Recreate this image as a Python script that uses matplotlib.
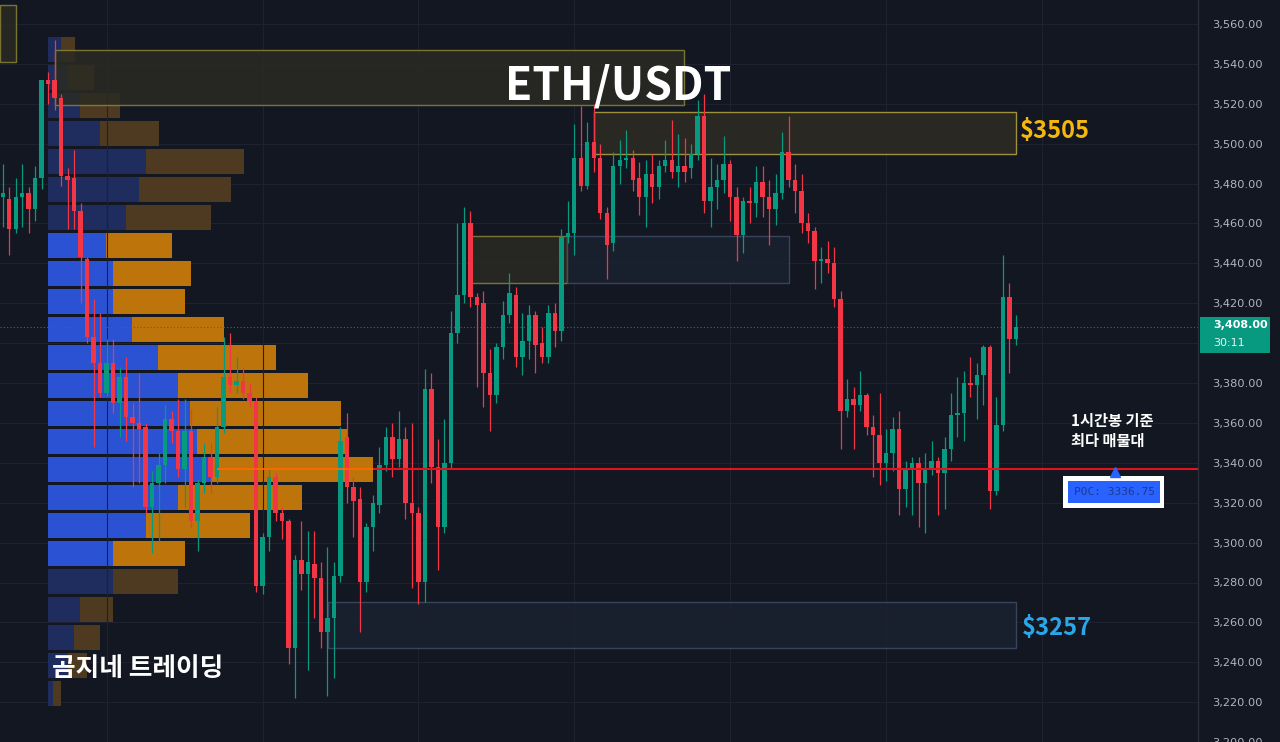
import matplotlib.pyplot as plt
from matplotlib.patches import Rectangle
import numpy as np

# ETH/USDT 1h candles (oldest -> newest)
opens = [3473, 3472, 3457, 3473, 3475, 3467, 3483, 3532, 3532, 3523,
         3484, 3483, 3466, 3442, 3403, 3390, 3375, 3390, 3370, 3383,
         3363, 3360, 3358, 3318, 3330, 3339, 3362, 3356, 3337, 3356,
         3311, 3330, 3343, 3333, 3358, 3383, 3379, 3381, 3375, 3371,
         3278, 3303, 3333, 3315, 3311, 3247, 3291, 3284, 3289, 3282,
         3255, 3262, 3283, 3353, 3328, 3322, 3280, 3308, 3319, 3339,
         3353, 3342, 3352, 3320, 3315, 3280, 3377, 3338, 3308, 3340,
         3405, 3424, 3460, 3423, 3420, 3385, 3374, 3398, 3414, 3424,
         3393, 3401, 3414, 3400, 3393, 3415, 3406, 3453, 3455, 3493,
         3479, 3501, 3493, 3465, 3450, 3489, 3492, 3493, 3483, 3473,
         3485, 3478, 3489, 3492, 3486, 3489, 3488, 3495, 3514, 3471,
         3478, 3482, 3490, 3473, 3454, 3471, 3470, 3481, 3473, 3467,
         3475, 3496, 3482, 3476, 3460, 3456, 3441, 3442, 3440, 3422,
         3366, 3372, 3369, 3374, 3358, 3354, 3340, 3345, 3357, 3327,
         3337, 3340, 3330, 3337, 3341, 3335, 3347, 3364, 3365, 3380,
         3379, 3384, 3398, 3326, 3359, 3423, 3402]
highs = [3490, 3478, 3483, 3490, 3478, 3489, 3532, 3536, 3552, 3525,
         3488, 3497, 3470, 3443, 3422, 3415, 3402, 3402, 3388, 3393,
         3370, 3385, 3360, 3336, 3345, 3369, 3366, 3372, 3372, 3367,
         3332, 3350, 3350, 3368, 3403, 3405, 3393, 3388, 3380, 3373,
         3305, 3337, 3335, 3318, 3312, 3294, 3311, 3306, 3306, 3290,
         3298, 3290, 3358, 3365, 3333, 3328, 3310, 3324, 3348, 3358,
         3360, 3366, 3358, 3360, 3318, 3387, 3385, 3352, 3362, 3416,
         3460, 3468, 3466, 3425, 3426, 3397, 3400, 3421, 3435, 3428,
         3415, 3419, 3416, 3408, 3419, 3420, 3457, 3471, 3510, 3519,
         3511, 3520, 3500, 3468, 3496, 3502, 3507, 3497, 3491, 3492,
         3495, 3492, 3502, 3512, 3505, 3503, 3500, 3522, 3525, 3493,
         3490, 3504, 3492, 3478, 3473, 3478, 3489, 3489, 3482, 3485,
         3506, 3514, 3490, 3485, 3465, 3458, 3448, 3451, 3448, 3426,
         3382, 3378, 3386, 3375, 3364, 3375, 3357, 3363, 3366, 3341,
         3343, 3343, 3345, 3351, 3343, 3353, 3375, 3383, 3386, 3393,
         3390, 3399, 3399, 3373, 3444, 3430, 3414]
lows = [3458, 3444, 3455, 3458, 3455, 3461, 3477, 3520, 3517, 3479,
        3457, 3457, 3420, 3400, 3348, 3373, 3373, 3365, 3353, 3351,
        3328, 3330, 3315, 3295, 3301, 3330, 3350, 3333, 3318, 3308,
        3296, 3325, 3325, 3330, 3355, 3375, 3375, 3372, 3368, 3275,
        3274, 3296, 3311, 3302, 3239, 3222, 3276, 3236, 3262, 3247,
        3223, 3232, 3280, 3320, 3303, 3255, 3275, 3296, 3315, 3336,
        3333, 3338, 3312, 3277, 3269, 3270, 3330, 3286, 3305, 3337,
        3400, 3420, 3418, 3378, 3368, 3356, 3370, 3392, 3410, 3388,
        3384, 3392, 3385, 3390, 3390, 3398, 3401, 3450, 3444, 3476,
        3477, 3486, 3462, 3432, 3446, 3480, 3488, 3476, 3464, 3458,
        3470, 3472, 3486, 3483, 3478, 3481, 3483, 3492, 3465, 3458,
        3467, 3475, 3461, 3441, 3445, 3460, 3463, 3463, 3449, 3459,
        3472, 3478, 3465, 3455, 3450, 3427, 3430, 3435, 3418, 3347,
        3363, 3347, 3366, 3354, 3333, 3329, 3331, 3336, 3314, 3318,
        3314, 3308, 3305, 3334, 3314, 3317, 3341, 3353, 3351, 3373,
        3362, 3369, 3317, 3324, 3356, 3385, 3399]
closes = [3475, 3457, 3473, 3475, 3467, 3483, 3532, 3530, 3523, 3484,
          3482, 3466, 3443, 3403, 3390, 3375, 3390, 3370, 3383, 3363,
          3360, 3357, 3318, 3330, 3339, 3362, 3356, 3337, 3356, 3311,
          3330, 3343, 3333, 3358, 3383, 3379, 3381, 3375, 3371, 3278,
          3303, 3333, 3315, 3311, 3247, 3291, 3284, 3290, 3282, 3255,
          3262, 3283, 3351, 3328, 3321, 3280, 3308, 3320, 3339, 3353,
          3342, 3352, 3320, 3315, 3280, 3377, 3338, 3308, 3340, 3405,
          3424, 3460, 3423, 3419, 3385, 3374, 3398, 3414, 3425, 3393,
          3401, 3414, 3399, 3393, 3415, 3406, 3453, 3455, 3493, 3479,
          3501, 3493, 3465, 3449, 3489, 3492, 3493, 3482, 3473, 3485,
          3478, 3489, 3492, 3486, 3489, 3486, 3495, 3514, 3471, 3478,
          3482, 3490, 3473, 3454, 3471, 3470, 3481, 3473, 3467, 3475,
          3496, 3482, 3476, 3460, 3456, 3441, 3442, 3440, 3422, 3366,
          3372, 3369, 3374, 3358, 3354, 3340, 3345, 3357, 3327, 3337,
          3340, 3330, 3337, 3341, 3335, 3347, 3364, 3365, 3380, 3379,
          3384, 3398, 3326, 3359, 3423, 3402, 3408]

# volume profile (top row -> bottom row)
vp_prices = [3547.2, 3533.2, 3519.1, 3505.1, 3491.1, 3477.1, 3463.0, 3449.0,
             3435.0, 3420.9, 3406.9, 3392.8, 3378.8, 3364.8, 3350.8, 3336.75,
             3322.7, 3308.7, 3294.6, 3280.6, 3266.6, 3252.6, 3238.5, 3224.5]
vp_buy = [1.3, 2.0, 3.2, 5.2, 9.8, 9.1, 7.8, 5.8, 6.5, 6.5, 8.4, 11.0,
          13.0, 14.2, 14.9, 16.4, 13.0, 9.8, 6.5, 6.5, 3.2, 2.6, 2.0, 0.5]
vp_sell = [1.4, 2.6, 4.0, 5.9, 9.8, 9.2, 8.5, 6.6, 7.8, 7.2, 9.2, 11.8,
           13.0, 15.1, 15.0, 16.1, 12.4, 10.4, 7.2, 6.5, 3.3, 2.6, 1.9, 0.8]
value_area_rows = range(7, 19)
poc = 3336.75
last_price = 3408.00
countdown = "30:11"

# zones: (start candle, end candle, top, bottom, kind)
zones = [(-0.42, 2.0, 3569.5, 3541.0, "olive"),
         (8.0, 104.9, 3547.0, 3519.4, "olive"),
         (91.0, 156.0, 3515.9, 3494.8, "gold"),
         (72.1, 86.9, 3453.7, 3430.2, "olive"),
         (86.9, 121.1, 3453.7, 3430.2, "slate"),
         (50.1, 156.0, 3270.3, 3247.3, "slate")]
zone_styles = {"olive": ("#2a2b22", "#8c8438"),
               "gold": ("#2d2c22", "#b5a542"),
               "slate": ("#1b2230", "#3f4c66")}

bg = "#131722"
up_col = "#089981"
down_col = "#f23645"
grid_col = "#1d2130"
kr = ["Noto Sans CJK KR", "DejaVu Sans"]

fig = plt.figure(figsize=(12.8, 7.42), dpi=100, facecolor=bg)
rect = [0, 0, 1198 / 1280, 1]

# bottom layer: volume profile
ax2 = fig.add_axes(rect)
ax2.set_facecolor(bg)
ax2.set_xlim(-4.8, 115)
ax2.set_ylim(3200.1, 3572.0)
for p in np.arange(3200, 3561, 20):
    ax2.axhline(p, color=grid_col, lw=0.8, zorder=0)
for k in range(len(vp_prices)):
    bright = k in value_area_rows
    bcol = "#2b52d2" if bright else "#1e2c5e"
    scol = "#bd740a" if bright else "#4d3a20"
    ax2.barh(vp_prices[k], vp_buy[k], height=12.5, color=bcol, zorder=2)
    ax2.barh(vp_prices[k], vp_sell[k], left=vp_buy[k], height=12.5, color=scol, zorder=2)
ax2.axis("off")

# top layer: candles, zones, labels
ax = fig.add_axes(rect)
ax.patch.set_visible(False)
ax.set_xlim(-0.42, 184.03)
ax.set_ylim(3200.1, 3572.0)

for i in range(16, 184, 24):
    ax.axvline(i, color=grid_col, lw=0.8, zorder=0)

for x0, x1, top, bot, kind in zones:
    fc, ec = zone_styles[kind]
    ax.add_patch(Rectangle((x0, bot), x1 - x0, top - bot, facecolor=fc, edgecolor=ec,
                           lw=1.0, alpha=0.85, zorder=1))

idx = np.arange(len(opens))
o = np.array(opens, dtype=float)
c = np.array(closes, dtype=float)
colors = np.where(c >= o, up_col, down_col)
ax.vlines(idx, lows, highs, colors=colors, lw=0.9, zorder=3)
body_low = np.minimum(o, c)
body_h = np.maximum(np.abs(c - o), 0.8)
ax.bar(idx, body_h, bottom=body_low, width=0.68, color=colors, zorder=4)

# POC line
ax.hlines(poc, 33, 57, color="#ff6a00", lw=1.3, zorder=5)
ax.hlines(poc, 57, 184.03, color="#e0141e", lw=1.5, zorder=5)

# last price dotted line
ax.axhline(last_price, color="#3d6b64", lw=0.8, ls=(0, (1, 2)), zorder=2)

# texts
fig.text(618 / 1280, 1 - 86 / 742, "ETH/USDT", ha="center", va="center",
         fontsize=32, fontweight="bold", color="white", family=kr)
ax.text(156.6, 3506.4, "$3505", ha="left", va="center", fontsize=17,
        fontweight="bold", color="#f5b70e", family=kr, zorder=6)
ax.text(156.9, 3257.2, "$3257", ha="left", va="center", fontsize=17,
        fontweight="bold", color="#2aa7e8", family=kr, zorder=6)
ax.text(7.6, 3237.0, "곰지네 트레이딩", ha="left", va="center", fontsize=18.5,
        fontweight="bold", color="white", family=kr, zorder=6)
ax.text(164.5, 3364.8, "1시간봉 기준\n최다 매물대", ha="left", va="top", fontsize=11,
        fontweight="bold", color="white", linespacing=1.3, family=kr, zorder=6)

# POC label box
ax.add_patch(Rectangle((163.25, 3317.4), 15.55, 16.0, facecolor="white",
                       edgecolor="none", zorder=6))
ax.add_patch(Rectangle((164.0, 3319.9), 14.2, 11.0, facecolor="#2962ff",
                       edgecolor="none", zorder=7))
ax.text(171.1, 3325.4, f"POC: {poc:.2f}", ha="center", va="center", fontsize=8,
        color="#1b3a94", family="DejaVu Sans Mono", zorder=8)
ax.plot([171.3], [3335.2], marker="^", color="#2962ff", markersize=7, zorder=8)

# right price axis
ticks = np.arange(3200, 3561, 20)
ax.yaxis.tick_right()
ax.set_yticks(ticks)
ax.set_yticklabels(["" if t == 3400 else f"{t:,.2f}" for t in ticks])
ax.tick_params(axis="y", length=0, pad=10.5, labelsize=8.2, labelcolor="#b2b5be")
ax.set_xticks([])
for s in ax.spines.values():
    s.set_visible(False)
ax.axvline(184.03, color="#2a2e39", lw=1.0, clip_on=False)

# last price tag
yt = ax.get_yaxis_transform()
ax.add_patch(Rectangle((1200 / 1198, 3395.1), 70 / 1198, 18.0, transform=yt,
                       facecolor=up_col, edgecolor="none", clip_on=False, zorder=6))
ax.text(1213 / 1198, 3409.2, f"{last_price:,.2f}", transform=yt, ha="left", va="center",
        fontsize=8, fontweight="bold", color="white", clip_on=False, zorder=7)
ax.text(1213 / 1198, 3400.2, countdown, transform=yt, ha="left", va="center",
        fontsize=8, color="#e6f4f1", clip_on=False, zorder=7)

fig.savefig("out.png", dpi=100, facecolor=bg)
